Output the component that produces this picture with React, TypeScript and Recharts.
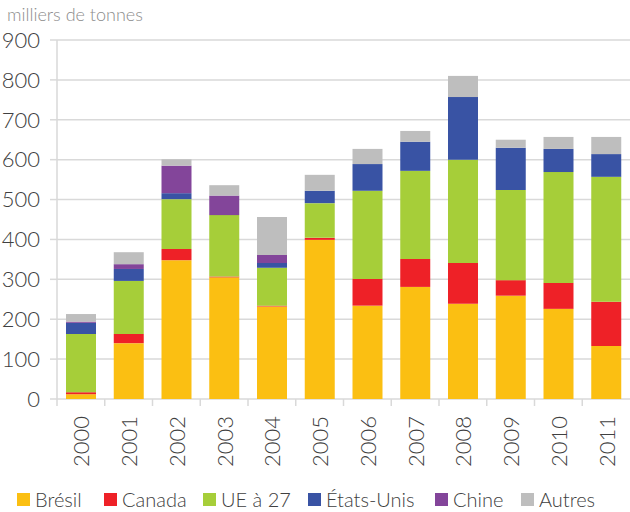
import { BarChart, Bar, XAxis, YAxis, CartesianGrid } from 'recharts';

const years = ['2000', '2001', '2002', '2003', '2004', '2005', '2006', '2007', '2008', '2009', '2010', '2011'];
const bresil = [12, 140, 348, 305, 232, 399, 234, 281, 239, 259, 226, 133];
const canada = [5, 23, 28, 2, 2, 5, 67, 70, 102, 39, 65, 111];
const ue27 = [146, 133, 125, 154, 95, 87, 221, 221, 259, 226, 278, 313];
const etatsUnis = [28, 30, 15, 0, 12, 31, 67, 73, 157, 106, 58, 57];
const chine = [3, 12, 69, 49, 20, 0, 0, 0, 0, 0, 0, 0];
const autres = [19, 30, 16, 26, 95, 40, 38, 27, 53, 20, 30, 43];
const yTicks = [0, 100, 200, 300, 400, 500, 600, 700, 800, 900];

const series = [
  { key: 'bresil', name: 'Brésil', color: '#FBBF12', values: bresil, lx: 17 },
  { key: 'canada', name: 'Canada', color: '#EE2127', values: canada, lx: 104 },
  { key: 'ue27', name: 'UE à 27', color: '#A6CE39', values: ue27, lx: 203 },
  { key: 'etatsUnis', name: 'États-Unis', color: '#3953A4', values: etatsUnis, lx: 308 },
  { key: 'chine', name: 'Chine', color: '#83459A', values: chine, lx: 435 },
  { key: 'autres', name: 'Autres', color: '#BEBEBE', values: autres, lx: 521 },
];

const data = years.map((year, i) => {
  const row: any = { year };
  series.forEach(s => { row[s.key] = s.values[i]; });
  return row;
});

const FONT = 'Lato, sans-serif';
const WEIGHT = 300;
const GRID = '#d9d9d9';

// rotated year label + tick mark on the left band boundary
const YearTick = ({ x, y, payload }: any) => {
  const half = 573 / 12 / 2;
  return (
    <g>
      <line x1={x - half} x2={x - half} y1={y} y2={y + 7} stroke={GRID} strokeWidth={1.5} />
      <text
        x={x}
        y={y + 17}
        transform={`rotate(-90, ${x}, ${y + 17})`}
        textAnchor="end"
        dominantBaseline="central"
        fill="#404040"
        fontSize={22}
        fontWeight={WEIGHT}
        fontFamily={FONT}
      >
        {payload.value}
      </text>
    </g>
  );
};

export default function App() {
  return (
    <div style={{ position: 'absolute', left: 0, top: 0, width: 630, height: 512, background: '#fff', fontFamily: FONT, fontWeight: WEIGHT }}>
      <div style={{ position: 'absolute', left: 7, top: 3, fontSize: 18, color: '#8c8c8c' }}>milliers de tonnes</div>
      <BarChart
        width={630}
        height={512}
        data={data}
        margin={{ top: 40, right: 0, bottom: 0, left: 0 }}
        barSize={30}
      >
        <CartesianGrid vertical={false} stroke={GRID} strokeWidth={1.5} />
        <XAxis
          dataKey="year"
          height={113}
          axisLine={false}
          tickLine={false}
          tickSize={0}
          tickMargin={0}
          interval={0}
          tick={<YearTick />}
        />
        <YAxis
          width={57}
          domain={[0, 900]}
          ticks={yTicks}
          interval={0}
          axisLine={{ stroke: GRID, strokeWidth: 1.5 }}
          tickLine={{ stroke: GRID, strokeWidth: 1.5 }}
          tickSize={7}
          tickMargin={10}
          tick={{ fill: '#404040', fontSize: 22, fontWeight: WEIGHT, fontFamily: FONT }}
        />
        {series.map(s => (
          <Bar key={s.key} dataKey={s.key} name={s.name} stackId="a" fill={s.color} isAnimationActive={false} />
        ))}
      </BarChart>
      {series.map(s => (
        <div
          key={s.key}
          style={{ position: 'absolute', left: s.lx, top: 487, display: 'flex', alignItems: 'center', fontSize: 20, color: '#404040', whiteSpace: 'nowrap' }}
        >
          <span style={{ display: 'inline-block', width: 13, height: 13, background: s.color, marginRight: 5 }} />
          <span>{s.name}</span>
        </div>
      ))}
    </div>
  );
}
